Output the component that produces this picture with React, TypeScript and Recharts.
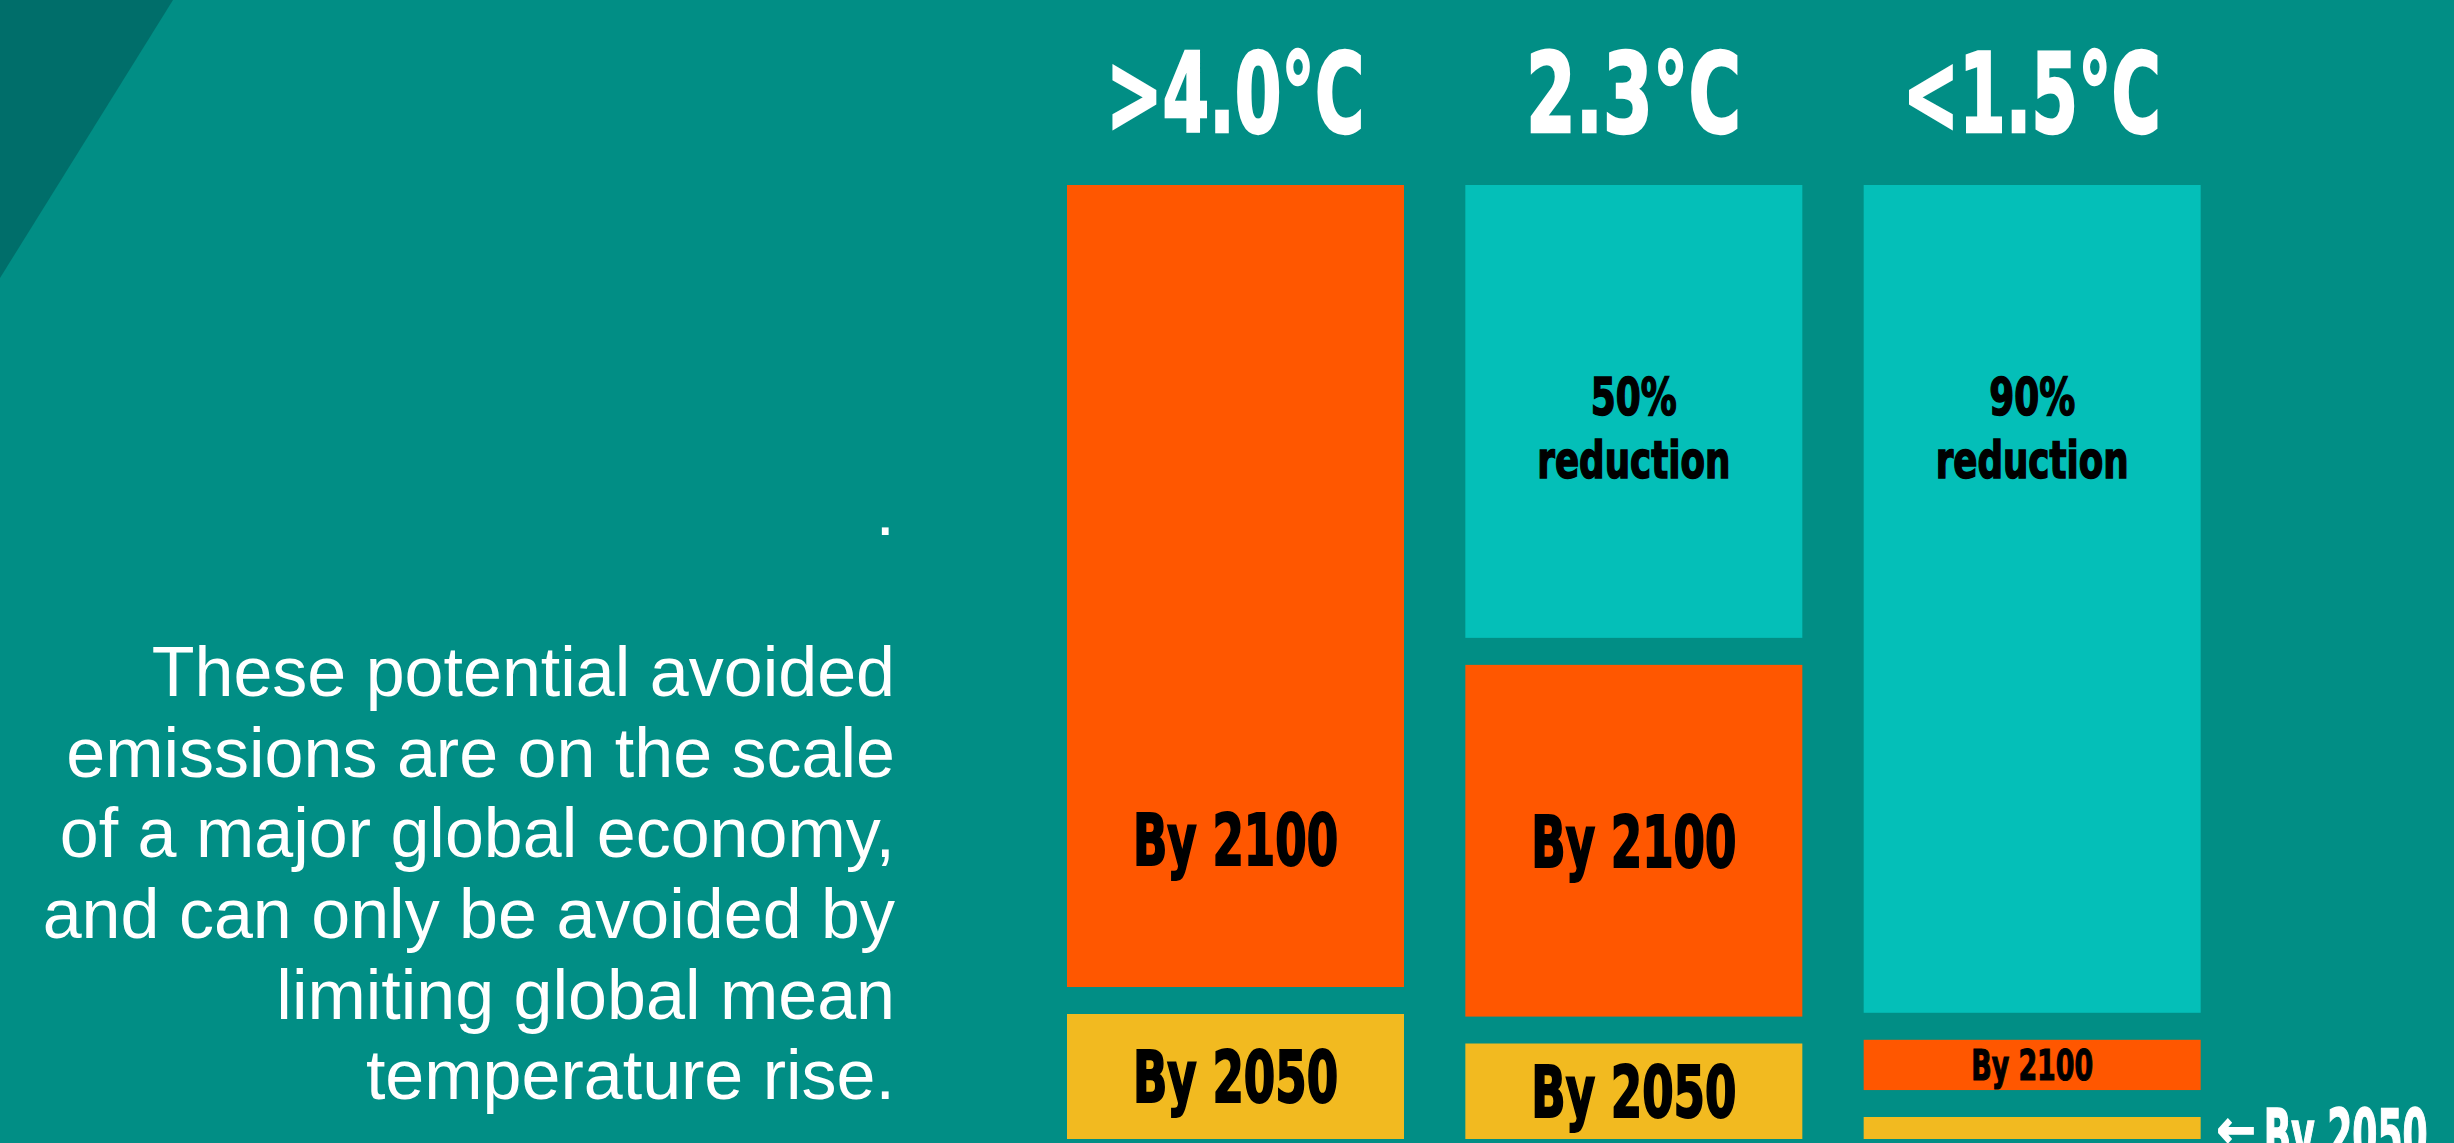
import { BarChart, Bar, XAxis, YAxis, LabelList } from "recharts";

const scenarios = [">4.0°C", "2.3°C", "<1.5°C"];
const by2050 = [13.1, 10.0, 2.3];
const by2100 = [86.9, 39.7, 8.1];
const reduction = [0, 50.3, 89.6];
const label2050 = ["By 2050", "By 2050", "By 2050"];
const label2100 = ["By 2100", "By 2100", "By 2100"];
const reductionPct = ["", "50%", "90%"];

const captionLines = [
  ".",
  "",
  "These potential avoided",
  "emissions are on the scale",
  "of a major global economy,",
  "and can only be avoided by",
  "limiting global mean",
  "temperature rise.",
];

const data = scenarios.map((s, i) => ({
  scenario: s,
  by2050: by2050[i],
  by2100: by2100[i],
  reduction: reduction[i],
  l2050: label2050[i],
  l2100: label2100[i],
  lred: reductionPct[i],
}));

const BG = "#018e85";
const TEAL = "#04bfb8";
const ORANGE = "#ff5700";
const YELLOW = "#f2ba20";
const GAP = 27;
const HEAVY = "'DejaVu Sans Condensed', 'Liberation Sans Narrow', sans-serif";

const gapShape = (props: any) => {
  const { x, y, width, height, fill } = props;
  const h = height - GAP;
  if (!(h > 0)) return <g />;
  return <rect x={x} y={y} width={width} height={h} fill={fill} />;
};

const segmentLabel = (inset: number) => (props: any) => {
  const { x, y, width, height, value } = props;
  if (!value) return null;
  const vis = height - inset;
  if (vis < 35) {
    // too thin: label outside with arrow
    const base = y + height + 20;
    return (
      <g fill="#fff" stroke="#fff" strokeWidth={1.5} fontFamily={HEAVY} fontWeight="bold">
        <text x={x + width + 16} y={base - 12} fontSize={52}>
          ←
        </text>
        <text
          x={x + width + 63}
          y={base}
          fontSize={70}
          textLength={164}
          lengthAdjust="spacingAndGlyphs"
        >
          {value}
        </text>
      </g>
    );
  }
  const fs = vis > 80 ? 72 : vis * 0.85;
  const cy = vis > 600 ? y + vis - 148 : y + vis / 2;
  return (
    <text
      x={x + width / 2}
      y={cy + fs * 0.36}
      textAnchor="middle"
      fontSize={fs}
      fontFamily={HEAVY}
      fontWeight="bold"
      fill="#000"
      stroke="#000"
      strokeWidth={fs > 60 ? 2 : 1.2}
      textLength={fs * 2.85}
      lengthAdjust="spacingAndGlyphs"
    >
      {value}
    </text>
  );
};

const reductionLabel = (props: any) => {
  const { x, y, width, value } = props;
  if (!value) return null;
  const cx = x + width / 2;
  return (
    <g
      fontFamily={HEAVY}
      fontWeight="bold"
      fill="#000"
      stroke="#000"
      strokeWidth={1.5}
      textAnchor="middle"
      fontSize={52}
    >
      <text x={cx} y={y + 230} textLength={86} lengthAdjust="spacingAndGlyphs">
        {value}
      </text>
      <text x={cx} y={y + 293} textLength={193} lengthAdjust="spacingAndGlyphs">
        reduction
      </text>
    </g>
  );
};

const HeaderTick = (props: any) => {
  const { x, payload } = props;
  const txt = String(payload.value);
  return (
    <text
      x={x}
      y={132}
      textAnchor="middle"
      fontSize={110}
      fontFamily={HEAVY}
      fontWeight="bold"
      fill="#fff"
      stroke="#fff"
      strokeWidth={2.5}
      textLength={txt.length * 43}
      lengthAdjust="spacingAndGlyphs"
    >
      {txt}
    </text>
  );
};

export default function App() {
  return (
    <div
      style={{
        position: "absolute",
        left: 0,
        top: 0,
        width: 2454,
        height: 1143,
        overflow: "hidden",
        background: BG,
      }}
    >
      <svg width={2454} height={1143} style={{ position: "absolute", left: 0, top: 0 }}>
        <polygon points="0,0 173,0 0,278" fill="#006e6a" />
      </svg>
      <div
        style={{
          position: "absolute",
          left: 0,
          top: 471,
          width: 895,
          textAlign: "right",
          color: "#fff",
          fontFamily: "'Liberation Sans', Arial, sans-serif",
          fontSize: 70,
          lineHeight: "80.6px",
          whiteSpace: "pre",
        }}
      >
        {captionLines.map((l, i) => (
          <div key={i} style={{ height: 80.6 }}>
            {l}
          </div>
        ))}
      </div>
      <div style={{ position: "absolute", left: 0, top: 0 }}>
        <BarChart
          width={2454}
          height={1143}
          data={data}
          margin={{ top: 184, right: 223, left: 1036, bottom: 4 }}
          barSize={337}
        >
          <XAxis
            dataKey="scenario"
            orientation="top"
            height={1}
            axisLine={false}
            tickLine={false}
            tick={<HeaderTick />}
            interval={0}
          />
          <YAxis hide domain={[0, 100]} />
          <Bar dataKey="by2050" stackId="a" fill={YELLOW} isAnimationActive={false}>
            <LabelList dataKey="l2050" content={segmentLabel(0)} />
          </Bar>
          <Bar dataKey="by2100" stackId="a" fill={ORANGE} shape={gapShape} isAnimationActive={false}>
            <LabelList dataKey="l2100" content={segmentLabel(GAP)} />
          </Bar>
          <Bar dataKey="reduction" stackId="a" fill={TEAL} shape={gapShape} isAnimationActive={false}>
            <LabelList dataKey="lred" content={reductionLabel} />
          </Bar>
        </BarChart>
      </div>
    </div>
  );
}
